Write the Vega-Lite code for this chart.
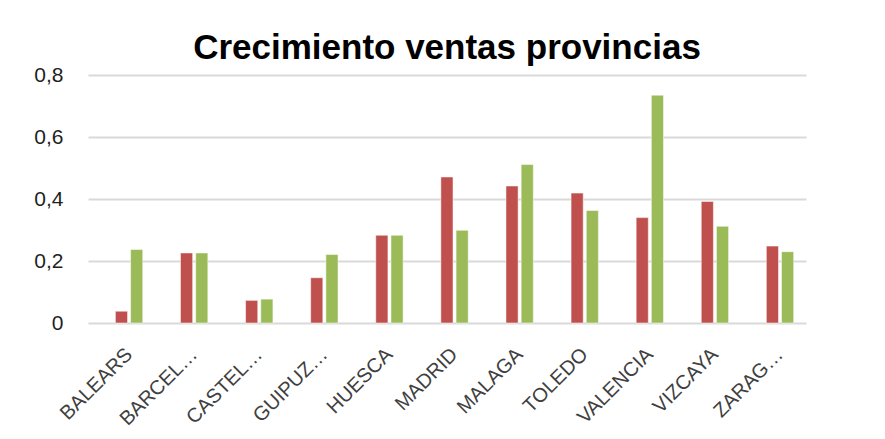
{
  "$schema": "https://vega.github.io/schema/vega-lite/v6.json",
  "autosize": "none",
  "width": 718,
  "height": 248,
  "padding": {"left": 88, "top": 75, "right": 79, "bottom": 116},
  "background": "white",
  "title": {
    "text": "Crecimiento ventas provincias",
    "font": "Liberation Sans",
    "fontSize": 35,
    "fontWeight": "bold",
    "color": "#000000",
    "anchor": "middle",
    "offset": -2
  },
  "data": {
    "values": [
      {"provincia": "BALEARS", "serie": "Serie1", "valor": 0.038},
      {"provincia": "BALEARS", "serie": "Serie2", "valor": 0.237},
      {"provincia": "BARCEL…", "serie": "Serie1", "valor": 0.226},
      {"provincia": "BARCEL…", "serie": "Serie2", "valor": 0.226},
      {"provincia": "CASTEL…", "serie": "Serie1", "valor": 0.073},
      {"provincia": "CASTEL…", "serie": "Serie2", "valor": 0.077},
      {"provincia": "GUIPUZ…", "serie": "Serie1", "valor": 0.146},
      {"provincia": "GUIPUZ…", "serie": "Serie2", "valor": 0.221},
      {"provincia": "HUESCA", "serie": "Serie1", "valor": 0.283},
      {"provincia": "HUESCA", "serie": "Serie2", "valor": 0.283},
      {"provincia": "MADRID", "serie": "Serie1", "valor": 0.471},
      {"provincia": "MADRID", "serie": "Serie2", "valor": 0.299},
      {"provincia": "MALAGA", "serie": "Serie1", "valor": 0.442},
      {"provincia": "MALAGA", "serie": "Serie2", "valor": 0.511},
      {"provincia": "TOLEDO", "serie": "Serie1", "valor": 0.419},
      {"provincia": "TOLEDO", "serie": "Serie2", "valor": 0.363},
      {"provincia": "VALENCIA", "serie": "Serie1", "valor": 0.340},
      {"provincia": "VALENCIA", "serie": "Serie2", "valor": 0.735},
      {"provincia": "VIZCAYA", "serie": "Serie1", "valor": 0.392},
      {"provincia": "VIZCAYA", "serie": "Serie2", "valor": 0.312},
      {"provincia": "ZARAG…", "serie": "Serie1", "valor": 0.248},
      {"provincia": "ZARAG…", "serie": "Serie2", "valor": 0.230}
    ]
  },
  "mark": {"type": "bar", "stroke": "#ffffff", "strokeOpacity": 0.5, "strokeWidth": 1},
  "encoding": {
    "x": {
      "field": "provincia",
      "type": "nominal",
      "sort": null,
      "scale": {"paddingInner": 0.58, "paddingOuter": 0.305, "align": 0.69},
      "axis": {
        "title": null,
        "labelAngle": -45,
        "labelAlign": "right",
        "labelBaseline": "middle",
        "labelFont": "Liberation Sans",
        "labelFontSize": 20,
        "labelColor": "#404040",
        "labelPadding": 28,
        "ticks": false,
        "domain": false,
        "grid": false
      }
    },
    "xOffset": {
      "field": "serie",
      "type": "nominal",
      "scale": {"paddingInner": 0.2}
    },
    "y": {
      "field": "valor",
      "type": "quantitative",
      "scale": {"domain": [0, 0.8], "nice": false},
      "axis": {
        "title": null,
        "values": [0, 0.2, 0.4, 0.6, 0.8],
        "labelExpr": "replace(format(datum.value, '.1~f'), '.', ',')",
        "labelFont": "Liberation Sans",
        "labelFontSize": 21,
        "labelColor": "#1f1f1f",
        "labelPadding": 25,
        "ticks": false,
        "domain": false,
        "grid": true,
        "gridColor": "#d9d9d9",
        "gridWidth": 2
      }
    },
    "color": {
      "field": "serie",
      "type": "nominal",
      "scale": {"domain": ["Serie1", "Serie2"], "range": ["#c0504d", "#9bbb59"]},
      "legend": null
    }
  },
  "config": {"view": {"stroke": null}}
}
